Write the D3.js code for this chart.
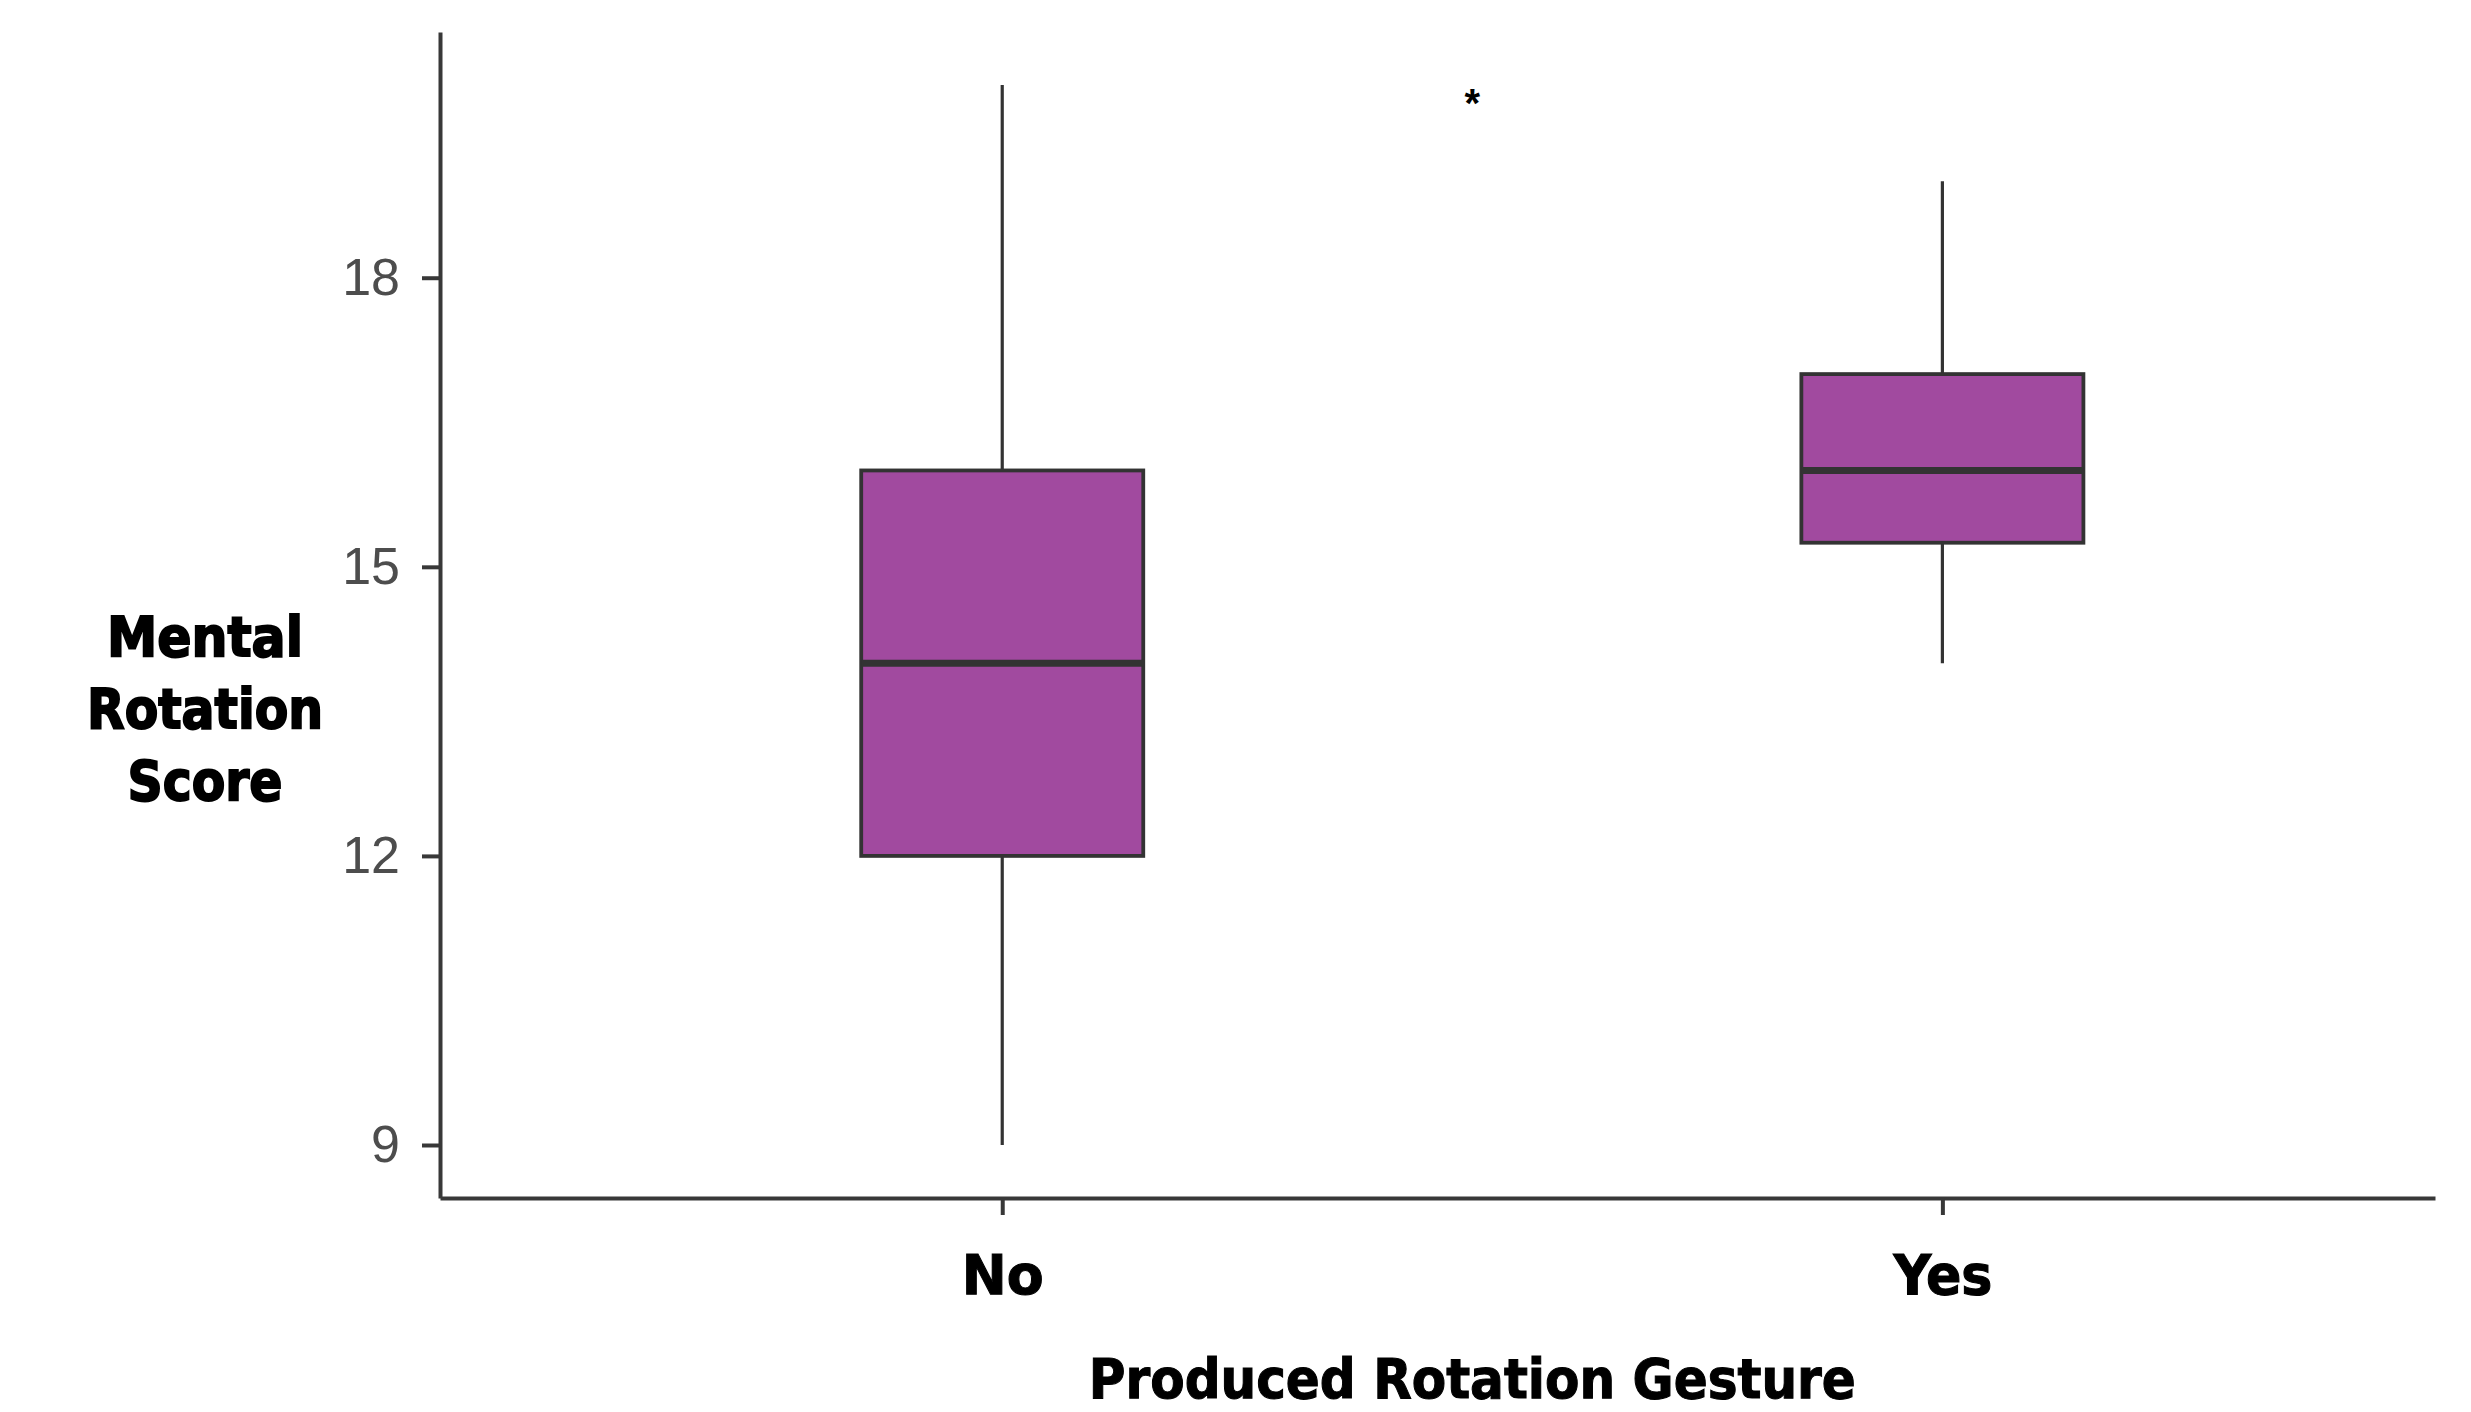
<!DOCTYPE html>
<html lang="en">
<head>
    <meta charset="UTF-8">
    <script type="text/javascript" src="https://cdn.jsdelivr.net/npm/d3@7"></script>
    <title>Mental Rotation Score</title>
    <style>
        body { margin: 0; background: #fff; }
    </style>
</head>
<body>

</body>
<script>

    // data
    let categories = ["No", "Yes"],
        lowerWhisker = [9, 14],
        q1 = [12, 15.25],
        median = [14, 16],
        q3 = [16, 17],
        upperWhisker = [20, 19],
        yTicks = [9, 12, 15, 18],
        sigLabel = "*",
        sigValue = 19.9;

    let width = 2471,
        height = 1412,
        plotLeft = 440,
        plotRight = 2435,
        plotTop = 32,
        plotBottom = 1198;

    let boxes = categories.map(function (c, i) {
        return {
            cat: c, lo: lowerWhisker[i], q1: q1[i], med: median[i], q3: q3[i], hi: upperWhisker[i]
        }
    });

    let x = d3.scalePoint()
        .domain(categories)
        .range([plotLeft, plotRight])
        .padding(0.561)
        .align(0.533);

    let y = d3.scaleLinear()
        .domain([8.45, 20.55])
        .range([plotBottom, plotTop]);

    let boxWidth = x.step() * 0.3;

    let svg = d3.select("body")
        .append("svg")
        .attr("width", width)
        .attr("height", height)

    // whiskers
    svg.selectAll("line.whisker")
        .data(boxes)
        .enter()
        .append("line")
        .attr("class", "whisker")
        .attr("x1", d => x(d.cat))
        .attr("x2", d => x(d.cat))
        .attr("y1", d => y(d.lo))
        .attr("y2", d => y(d.hi))
        .attr("stroke", "#333")
        .attr("stroke-width", 3.2);

    // boxes
    svg.selectAll("rect.box")
        .data(boxes)
        .enter()
        .append("rect")
        .attr("class", "box")
        .attr("x", d => x(d.cat) - boxWidth / 2)
        .attr("width", boxWidth)
        .attr("y", d => y(d.q3))
        .attr("height", d => y(d.q1) - y(d.q3))
        .attr("fill", "#a14a9f")
        .attr("stroke", "#333")
        .attr("stroke-width", 3.8);

    // medians
    svg.selectAll("line.median")
        .data(boxes)
        .enter()
        .append("line")
        .attr("class", "median")
        .attr("x1", d => x(d.cat) - boxWidth / 2)
        .attr("x2", d => x(d.cat) + boxWidth / 2)
        .attr("y1", d => y(d.med))
        .attr("y2", d => y(d.med))
        .attr("stroke", "#333")
        .attr("stroke-width", 7);

    // axes
    let yAxis = svg.append("g")
        .attr("transform", "translate(" + plotLeft + ",0)")
        .call(d3.axisLeft(y).tickValues(yTicks).tickSize(18).tickSizeOuter(0).tickPadding(22));

    let xAxis = svg.append("g")
        .attr("transform", "translate(0," + plotBottom + ")")
        .call(d3.axisBottom(x).tickSize(17).tickSizeOuter(0));

    svg.selectAll(".domain, .tick line")
        .attr("stroke", "#383838")
        .attr("stroke-width", 4);

    yAxis.selectAll("text")
        .attr("font-family", "Liberation Sans, Arial, sans-serif")
        .attr("font-size", 52)
        .attr("fill", "#4d4d4d");

    let labelWidths = {No: 82, Yes: 99};
    xAxis.selectAll("text")
        .attr("y", 96)
        .attr("dy", 0)
        .attr("font-family", "DejaVu Sans Condensed, DejaVu Sans, sans-serif")
        .attr("font-weight", "bold")
        .attr("font-size", 55)
        .attr("fill", "#000")
        .attr("stroke", "#000")
        .attr("stroke-width", 1)
        .attr("textLength", d => labelWidths[d])
        .attr("lengthAdjust", "spacingAndGlyphs");

    // significance mark between the groups
    let mid = (x(categories[0]) + x(categories[1])) / 2;
    svg.append("text")
        .attr("x", mid)
        .attr("y", y(sigValue) + 22)
        .attr("text-anchor", "middle")
        .attr("font-family", "Liberation Sans, Arial, sans-serif")
        .attr("font-weight", "bold")
        .attr("font-size", 40)
        .text(sigLabel);

    // axis titles
    svg.append("text")
        .attr("x", mid)
        .attr("y", 1398)
        .attr("text-anchor", "middle")
        .attr("font-family", "DejaVu Sans Condensed, DejaVu Sans, sans-serif")
        .attr("font-weight", "bold")
        .attr("font-size", 55)
        .attr("stroke", "#000")
        .attr("stroke-width", 1)
        .attr("textLength", 767)
        .attr("lengthAdjust", "spacingAndGlyphs")
        .text("Produced Rotation Gesture");

    let yTitle = [["Mental", 196], ["Rotation", 236], ["Score", 155]];
    svg.selectAll("text.ytitle")
        .data(yTitle)
        .enter()
        .append("text")
        .attr("class", "ytitle")
        .attr("x", 205)
        .attr("y", (d, i) => 656 + i * 72)
        .attr("text-anchor", "middle")
        .attr("font-family", "DejaVu Sans, sans-serif")
        .attr("font-weight", "bold")
        .attr("font-size", 56)
        .attr("stroke", "#000")
        .attr("stroke-width", 2)
        .attr("textLength", d => d[1])
        .attr("lengthAdjust", "spacingAndGlyphs")
        .text(d => d[0]);

</script>
</html>
